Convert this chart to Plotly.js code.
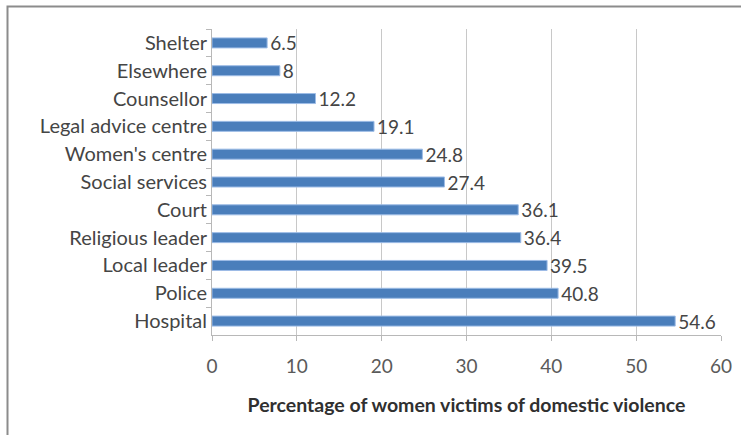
<!DOCTYPE html>
<html><head><meta charset="utf-8">
<script src="https://cdn.plot.ly/plotly-3.0.1.min.js"></script>
<style>html,body{margin:0;padding:0;background:#fff;}#chart{width:741px;height:435px;}</style>
</head><body><div id="chart"></div>
<script>
const categories = ["Shelter","Elsewhere","Counsellor","Legal advice centre","Women's centre","Social services","Court","Religious leader","Local leader","Police","Hospital"];
const values = [6.5, 8, 12.2, 19.1, 24.8, 27.4, 36.1, 36.4, 39.5, 40.8, 54.6];
const valueLabels = ["6.5","8","12.2","19.1","24.8","27.4","36.1","36.4","39.5","40.8","54.6"];
const xTicks = [0,10,20,30,40,50,60];
const xTitle = "Percentage of women victims of domestic violence";

const font = "Lato, 'Open Sans', sans-serif";
const trace = {
  type: "bar", orientation: "h",
  x: values, y: categories,
  text: valueLabels, textposition: "outside", cliponaxis: false, constraintext: "none",
  textfont: {family: font, size: 19, color: "#454545"},
  marker: {color: "#4a7ebb", line: {color: "#9dbce6", width: 1}},
  width: 0.36, hoverinfo: "none"
};
const layout = {
  width: 741, height: 435,
  margin: {l: 212, r: 20, t: 29, b: 100},
  paper_bgcolor: "#fff", plot_bgcolor: "#fff",
  showlegend: false,
  font: {family: font, size: 19, color: "#404040"},
  xaxis: {
    range: [0, 60], tickvals: xTicks, ticktext: xTicks.map(String),
    showgrid: true, gridcolor: "#c8c8c8", gridwidth: 1,
    showline: true, linecolor: "#b8b8b8", linewidth: 1,
    ticks: "outside", ticklen: 5, tickcolor: "#b8b8b8",
    ticklabelstandoff: 9, zeroline: false,
    tickfont: {family: font, size: 19, color: "#5a5a5a"},
    title: {text: "<b>" + xTitle + "</b>", font: {family: font, size: 19.5, color: "#303030"}, standoff: 22}
  },
  yaxis: {
    type: "category", autorange: "reversed",
    showline: true, linecolor: "#b8b8b8", linewidth: 1,
    ticks: "outside", ticklen: 5, tickcolor: "#b8b8b8", tickson: "boundaries",
    showgrid: false, zeroline: false,
    tickfont: {family: font, size: 20, color: "#454545"}
  },
  shapes: [{
    type: "rect", xref: "paper", yref: "paper",
    x0: (7.5 - 212) / 509, x1: 1.2, y0: -0.5, y1: (335 - 6.5) / 306,
    line: {color: "#8c8c8c", width: 2}, fillcolor: "rgba(0,0,0,0)", layer: "above"
  }]
};
Plotly.newPlot("chart", [trace], layout, {staticPlot: true, displayModeBar: false});
</script></body></html>
